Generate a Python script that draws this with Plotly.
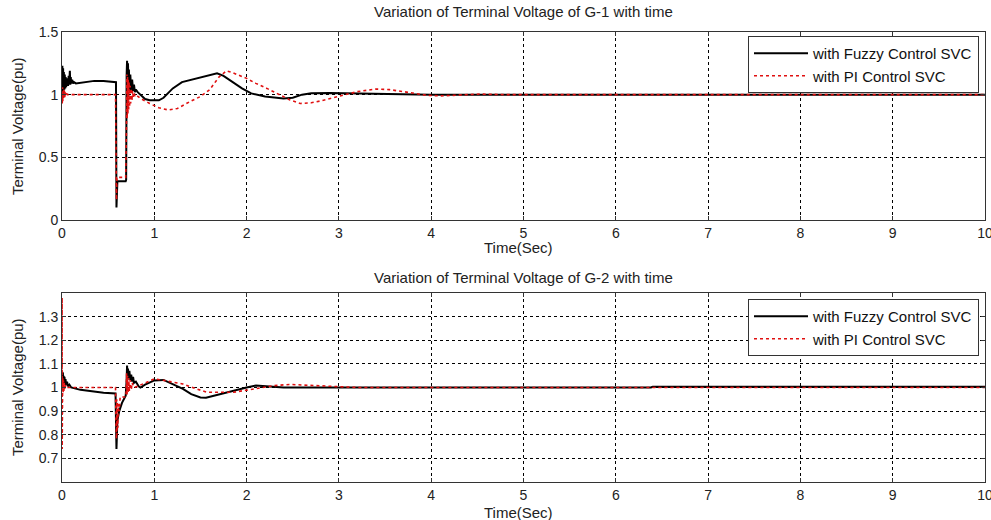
import plotly.graph_objects as go

# ---------------- data ----------------
t_g1_fuzzy = [0, 0.004, 0.008, 0.012, 0.016, 0.02, 0.025, 0.03, 0.035, 0.04, 0.045, 0.05, 0.055, 0.06,
              0.066, 0.072, 0.078, 0.085, 0.09, 0.095, 0.1, 0.11, 0.12, 0.13, 0.15, 0.25, 0.35, 0.45,
              0.58, 0.585, 0.59, 0.595, 0.6, 0.69, 0.695, 0.7, 0.705, 0.71, 0.715, 0.72, 0.725, 0.73,
              0.74, 0.75, 0.76, 0.77, 0.78, 0.79, 0.8, 0.82, 0.85, 0.9, 0.95, 1.05, 1.1, 1.2, 1.3, 1.4,
              1.5, 1.6, 1.68, 1.75, 1.85, 1.95, 2.05, 2.2, 2.4, 2.5, 2.6, 2.7, 2.9, 3.2, 3.6, 4.0, 10]
v_g1_fuzzy = [1.0, 1.23, 1.0, 1.21, 1.02, 1.18, 1.04, 1.16, 1.05, 1.14, 1.06, 1.13, 1.07, 1.12,
              1.07, 1.15, 1.08, 1.19, 1.08, 1.14, 1.09, 1.12, 1.09, 1.10, 1.09, 1.10, 1.11, 1.11,
              1.105, 1.1, 0.1, 0.3, 0.31, 0.31, 0.32, 1.15, 1.27, 1.05, 1.25, 1.04, 1.2, 1.03,
              1.16, 1.03, 1.12, 1.03, 1.08, 1.02, 1.04, 1.02, 1.0, 0.965, 0.955, 0.955, 0.975, 1.05, 1.1, 1.12,
              1.135, 1.155, 1.17, 1.15, 1.10, 1.05, 1.01, 0.985, 0.97, 0.975, 1.0, 1.012, 1.013, 1.008, 1.003, 1.0, 1.0]

t_g1_pi = [0, 0.003, 0.006, 0.009, 0.012, 0.015, 0.018, 0.022, 0.026, 0.03, 0.035, 0.04, 0.05, 0.06,
           0.58, 0.585, 0.59, 0.595, 0.69, 0.695, 0.7, 0.703, 0.706, 0.71, 0.714, 0.718, 0.722, 0.727,
           0.732, 0.738, 0.744, 0.75, 0.757, 0.765, 0.773, 0.78, 0.79, 0.8, 0.85, 0.95, 1.05, 1.15,
           1.25, 1.4, 1.5, 1.6, 1.7, 1.78, 1.85, 2.0, 2.1, 2.22, 2.35, 2.47, 2.58, 2.7, 2.8, 2.98,
           3.1, 3.2, 3.4, 3.55, 3.7, 3.85, 3.95, 4.1, 4.3, 4.53, 4.8, 10]
v_g1_pi = [1.0, 0.93, 1.06, 0.95, 1.05, 0.96, 1.04, 0.97, 1.03, 0.98, 1.02, 0.99, 1.01, 1.0,
           1.0, 0.6, 0.16, 0.34, 0.34, 0.5, 0.85, 1.16, 0.81, 1.14, 0.84, 1.12, 0.87, 1.1,
           0.9, 1.07, 0.93, 1.05, 0.95, 1.03, 0.97, 1.02, 0.99, 1.0, 0.97, 0.93, 0.895, 0.878,
           0.89, 0.95, 0.985, 1.04, 1.14, 1.19, 1.175, 1.13, 1.09, 1.05, 1.0, 0.958, 0.93, 0.935, 0.95, 0.984,
           1.01, 1.024, 1.045, 1.04, 1.024, 1.005, 0.995, 0.99, 0.995, 1.005, 1.0, 1.0]

t_g2_fuzzy = [0, 0.003, 0.006, 0.01, 0.014, 0.018, 0.022, 0.027, 0.032, 0.038, 0.045, 0.055, 0.065,
              0.08, 0.1, 0.2, 0.3, 0.45, 0.58, 0.585, 0.59, 0.6, 0.62, 0.65, 0.69, 0.7, 0.705, 0.71,
              0.715, 0.72, 0.73, 0.74, 0.75, 0.76, 0.77, 0.78, 0.8, 0.83, 0.85, 0.9, 1.0, 1.1, 1.2,
              1.31, 1.4, 1.5, 1.56, 1.65, 1.75, 1.9, 2.0, 2.1, 2.25, 2.4, 6.38, 6.4, 10]
v_g2_fuzzy = [1.0, 1.065, 1.01, 1.06, 1.015, 1.05, 1.015, 1.045, 1.015, 1.035, 1.01, 1.025, 1.005,
              1.012, 1.0, 0.99, 0.985, 0.978, 0.975, 0.9, 0.74, 0.86, 0.9, 0.935, 0.965, 1.03, 1.093, 1.04,
              1.08, 1.04, 1.07, 1.03, 1.055, 1.025, 1.045, 1.02, 1.025, 1.005, 1.0, 1.012, 1.03, 1.032, 1.015,
              0.994, 0.972, 0.958, 0.957, 0.966, 0.978, 0.993, 1.0, 1.008, 1.005, 1.0, 1.0, 1.003, 1.003]

t_g2_pi = [0, 0.001, 0.002, 0.004, 0.006, 0.009, 0.012, 0.016, 0.02, 0.025, 0.03, 0.04, 0.05,
           0.58, 0.585, 0.59, 0.593, 0.596, 0.6, 0.605, 0.61, 0.62, 0.63, 0.69, 0.695, 0.7, 0.705,
           0.71, 0.716, 0.722, 0.73, 0.74, 0.75, 0.76, 0.78, 0.82, 0.9, 1.0, 1.1, 1.31, 1.45, 1.57,
           1.86, 2.07, 2.3, 2.47, 2.7, 2.9, 3.2, 10]
v_g2_pi = [1.0, 1.38, 0.74, 1.05, 0.97, 1.04, 0.98, 1.03, 0.985, 1.02, 0.99, 1.01, 1.0,
           1.0, 0.85, 0.78, 0.95, 0.8, 0.94, 0.83, 0.93, 0.9, 0.96, 0.96, 0.98, 1.06, 0.97,
           1.05, 0.98, 1.04, 0.985, 1.03, 0.99, 1.02, 1.0, 1.005, 1.02, 1.037, 1.03, 1.015, 0.995, 0.98,
           0.98, 0.994, 1.008, 1.013, 1.008, 1.004, 1.0, 1.0]

x_ticks = [0, 1, 2, 3, 4, 5, 6, 7, 8, 9, 10]
y1_ticks = [0, 0.5, 1, 1.5]
y1_labels = ["0", "0.5", "1", "1.5"]
y2_ticks = [0.7, 0.8, 0.9, 1, 1.1, 1.2, 1.3]
y2_labels = ["0.7", "0.8", "0.9", "1", "1.1", "1.2", "1.3"]
names = ["with Fuzzy Control SVC", "with PI Control SVC"]
titles = ["Variation of Terminal Voltage of G-1 with time",
          "Variation of Terminal Voltage of G-2 with time"]

# ---------------- figure ----------------
W, H = 991, 520
L, R = 62, 6
def py(p):
    return 1 - p / H

BLACK = "#000000"
RED = "#e01010"
SANS = "Liberation Sans, Arial"
tick_font = dict(family=SANS, size=14, color="#222")

fig = go.Figure()
fig.add_trace(go.Scatter(x=t_g1_fuzzy, y=v_g1_fuzzy, mode="lines", name=names[0],
                         line=dict(color=BLACK, width=2), xaxis="x", yaxis="y", legend="legend"))
fig.add_trace(go.Scatter(x=t_g1_pi, y=v_g1_pi, mode="lines", name=names[1],
                         line=dict(color=RED, width=1.6, dash="dot"), xaxis="x", yaxis="y", legend="legend"))
fig.add_trace(go.Scatter(x=t_g2_fuzzy, y=v_g2_fuzzy, mode="lines", name=names[0],
                         line=dict(color=BLACK, width=2), xaxis="x2", yaxis="y2", legend="legend2"))
fig.add_trace(go.Scatter(x=t_g2_pi, y=v_g2_pi, mode="lines", name=names[1],
                         line=dict(color=RED, width=1.6, dash="dot"), xaxis="x2", yaxis="y2", legend="legend2"))

axis_common = dict(showline=True, linecolor="#333", linewidth=1, mirror="ticks",
                   showgrid=True, gridcolor="#000", gridwidth=1, griddash="3px,3px",
                   ticks="inside", ticklen=4, tickcolor="#333", zeroline=False,
                   tickfont=tick_font, ticklabeloverflow="allow", automargin=False)

legend_common = dict(xref="paper", yref="paper", x=0.9935, xanchor="right",
                     bgcolor="white", bordercolor="#333", borderwidth=1,
                     font=dict(family=SANS, size=15, color="#111"),
                     itemwidth=54, tracegroupgap=0)

fig.update_layout(
    width=W, height=H,
    margin=dict(l=L, r=R, t=0, b=0, autoexpand=False),
    paper_bgcolor="white", plot_bgcolor="white",
    xaxis=dict(domain=[0, 1], anchor="y", range=[0, 10], tickvals=x_ticks, **axis_common),
    yaxis=dict(domain=[py(220), py(32)], anchor="x", range=[0, 1.5], tickvals=y1_ticks,
               ticktext=y1_labels, **axis_common),
    xaxis2=dict(domain=[0, 1], anchor="y2", range=[0, 10], tickvals=x_ticks, **axis_common),
    yaxis2=dict(domain=[py(482), py(293)], anchor="x2", range=[0.6, 1.4], tickvals=y2_ticks,
                ticktext=y2_labels, **axis_common),
    legend=dict(y=py(36), yanchor="top", **legend_common),
    legend2=dict(y=py(299), yanchor="top", **legend_common),
    showlegend=True,
)

ann_font = dict(family=SANS, size=15, color="#222")
ylab_font = dict(family=SANS, size=15, color="#222")
annotations = [
    dict(text=titles[0], x=0.5, y=py(11), xref="paper", yref="paper", showarrow=False,
         xanchor="center", yanchor="middle", font=ann_font),
    dict(text=titles[1], x=0.5, y=py(277), xref="paper", yref="paper", showarrow=False,
         xanchor="center", yanchor="middle", font=ann_font),
    dict(text="Time(Sec)", x=0.495, y=py(247), xref="paper", yref="paper", showarrow=False,
         xanchor="center", yanchor="middle", font=dict(family=SANS, size=15, color="#222")),
    dict(text="Time(Sec)", x=0.495, y=py(512), xref="paper", yref="paper", showarrow=False,
         xanchor="center", yanchor="middle", font=dict(family=SANS, size=15, color="#222")),
    dict(text="Terminal Voltage(pu)", x=(17 - L) / (W - L - R), y=py(126), xref="paper", yref="paper",
         showarrow=False, textangle=-90, xanchor="center", yanchor="middle", font=ylab_font),
    dict(text="Terminal Voltage(pu)", x=(17 - L) / (W - L - R), y=py(387), xref="paper", yref="paper",
         showarrow=False, textangle=-90, xanchor="center", yanchor="middle", font=ylab_font),
]
fig.update_layout(annotations=annotations)

fig.write_html("out.html")
